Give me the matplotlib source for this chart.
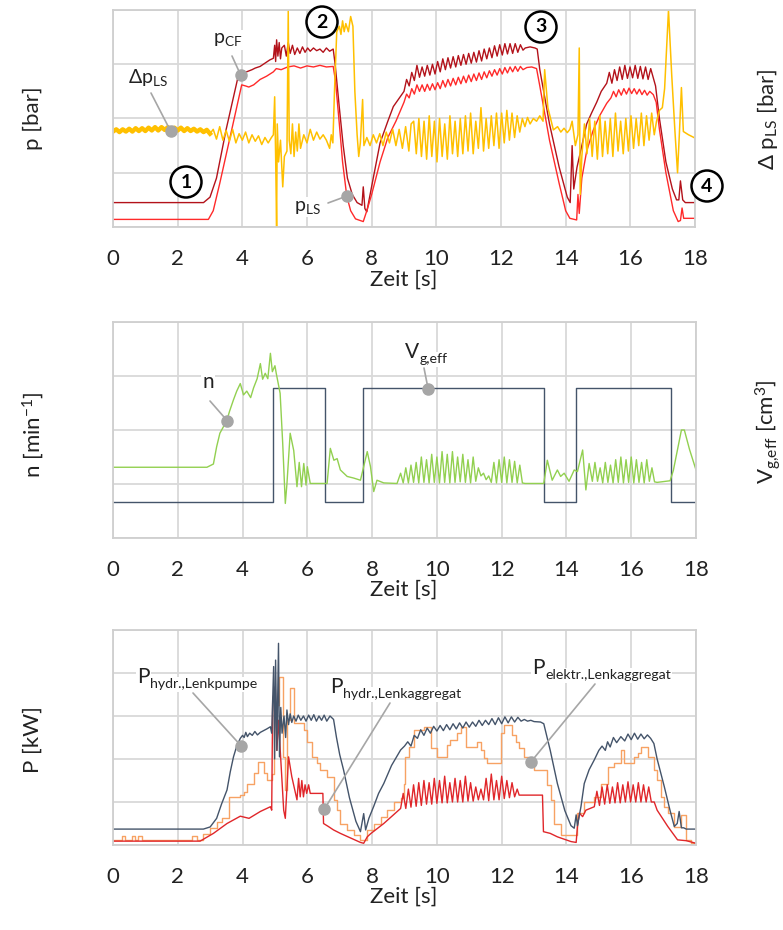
import numpy as np
import matplotlib
matplotlib.use("Agg")
import matplotlib.pyplot as plt

plt.rcParams['font.family'] = ['Lato', 'DejaVu Sans']
plt.rcParams['mathtext.fontset'] = 'custom'
plt.rcParams['mathtext.rm'] = 'Lato'
plt.rcParams['mathtext.it'] = 'Lato:italic'
plt.rcParams['mathtext.bf'] = 'Lato:bold'
plt.rcParams['mathtext.fallback'] = 'stixsans'

# ---------------- Daten ----------------
x_ticks = [0, 2, 4, 6, 8, 10, 12, 14, 16, 18]

# oberes Diagramm: Druecke (Skala 0..4 Kaestchen)
p_cf = [(0, 0.45), (2.8, 0.45), (3.0, 0.55), (3.2, 0.9), (3.5, 1.8), (3.88, 2.8), (4.0, 2.85),
        (4.13, 2.86), (4.3, 2.9), (4.4, 2.93), (4.55, 2.96), (4.7, 3.02), (4.85, 3.08), (4.96, 3.11),
        (5.0, 3.35), (5.03, 3.05), (5.06, 3.45), (5.1, 3.15), (5.14, 3.4), (5.18, 3.1), (5.22, 3.3),
        (5.3, 3.35), (5.36, 3.15), (5.42, 3.4), (5.48, 3.2), (5.55, 3.35), (5.62, 3.18), (5.7, 3.3),
        (5.78, 3.2), (5.86, 3.32), (5.94, 3.22), (6.02, 3.3), (6.1, 3.24), (6.2, 3.3), (6.3, 3.25),
        (6.4, 3.28), (6.5, 3.22), (6.6, 3.3), (6.7, 3.24), (6.81, 3.28), (6.87, 3.0), (7.0, 2.2),
        (7.12, 1.5), (7.25, 0.9), (7.4, 0.6), (7.55, 0.45), (7.7, 0.4), (7.74, 0.74), (7.79, 0.34),
        (7.85, 0.28), (8.0, 0.75), (8.26, 1.55), (8.5, 1.95), (8.67, 2.22), (8.88, 2.4),
        (9.0, 2.5), (9.08, 2.72), (9.16, 2.6), (9.24, 2.85), (9.32, 2.7), (9.4, 2.98), (9.48, 2.76),
        (9.56, 2.95), (9.64, 2.78), (9.72, 2.98), (9.8, 2.8), (9.88, 3.0), (9.96, 2.82), (10.04, 3.05),
        (10.12, 2.86), (10.2, 3.1), (10.28, 2.9), (10.36, 3.12), (10.44, 2.93), (10.52, 3.14),
        (10.6, 2.95), (10.68, 3.16), (10.76, 2.98), (10.84, 3.18), (10.92, 3.0), (11.0, 3.2),
        (11.08, 3.02), (11.16, 3.22), (11.24, 3.04), (11.32, 3.25), (11.4, 3.06), (11.48, 3.28),
        (11.56, 3.1), (11.64, 3.3), (11.72, 3.12), (11.8, 3.34), (11.88, 3.15), (11.96, 3.36),
        (12.04, 3.17), (12.12, 3.38), (12.2, 3.19), (12.28, 3.38), (12.36, 3.2), (12.44, 3.38),
        (12.52, 3.22), (12.6, 3.36), (12.68, 3.26), (12.75, 3.3), (12.9, 3.32), (13.05, 3.3),
        (13.12, 3.28), (13.2, 2.9), (13.5, 1.9), (13.8, 1.1), (14.05, 0.55), (14.14, 0.45),
        (14.2, 1.5), (14.25, 0.7), (14.35, 1.1), (14.5, 1.5), (14.65, 1.9), (14.8, 2.1), (14.96, 2.3),
        (15.1, 2.5), (15.27, 2.65), (15.35, 2.85), (15.43, 2.65), (15.51, 2.9), (15.59, 2.7),
        (15.67, 2.95), (15.75, 2.72), (15.83, 2.98), (15.91, 2.74), (15.99, 2.95), (16.07, 2.75),
        (16.15, 2.98), (16.23, 2.74), (16.31, 2.96), (16.39, 2.73), (16.47, 2.95), (16.55, 2.72),
        (16.63, 2.92), (16.71, 2.75), (16.78, 2.6), (16.9, 2.0), (17.1, 1.2), (17.3, 0.7),
        (17.43, 0.5), (17.5, 0.5), (17.55, 0.85), (17.62, 0.5), (17.7, 0.45), (18.0, 0.45)]

p_ls = [(0, 0.14), (2.95, 0.14), (3.1, 0.3), (3.3, 0.8), (3.6, 1.6), (3.98, 2.62), (4.1, 2.6),
        (4.2, 2.58), (4.35, 2.62), (4.55, 2.72), (4.75, 2.78), (4.96, 2.86), (5.05, 2.92), (5.2, 2.9),
        (5.4, 2.95), (5.6, 2.97), (5.8, 2.93), (6.0, 2.97), (6.2, 2.95), (6.4, 2.98), (6.6, 2.95),
        (6.81, 2.96), (6.88, 2.7), (7.0, 1.9), (7.1, 1.2), (7.23, 0.57), (7.35, 0.3), (7.5, 0.15),
        (7.74, 0.1), (7.85, 0.3), (8.0, 0.6), (8.26, 1.2), (8.5, 1.65), (8.75, 1.95), (9.0, 2.3),
        (9.08, 2.45), (9.16, 2.38), (9.24, 2.55), (9.32, 2.45), (9.4, 2.62), (9.48, 2.5), (9.56, 2.62),
        (9.64, 2.5), (9.72, 2.63), (9.8, 2.52), (9.88, 2.64), (9.96, 2.53), (10.04, 2.66), (10.12, 2.55),
        (10.2, 2.7), (10.28, 2.58), (10.36, 2.72), (10.44, 2.6), (10.52, 2.74), (10.6, 2.62),
        (10.68, 2.76), (10.76, 2.64), (10.84, 2.78), (10.92, 2.66), (11.0, 2.8), (11.08, 2.68),
        (11.16, 2.82), (11.24, 2.7), (11.32, 2.84), (11.4, 2.72), (11.48, 2.86), (11.56, 2.75),
        (11.64, 2.88), (11.72, 2.78), (11.8, 2.9), (11.88, 2.8), (11.96, 2.92), (12.04, 2.82),
        (12.12, 2.94), (12.2, 2.84), (12.28, 2.95), (12.36, 2.86), (12.44, 2.96), (12.52, 2.87),
        (12.6, 2.96), (12.68, 2.9), (12.8, 2.94), (12.95, 2.95), (13.1, 2.92), (13.2, 2.6), (13.5, 1.6),
        (13.8, 0.8), (14.0, 0.3), (14.13, 0.16), (14.34, 0.13), (14.38, 0.6), (14.42, 0.25), (14.5, 0.9),
        (14.65, 1.4), (14.85, 1.78), (15.05, 2.05), (15.27, 2.28), (15.4, 2.38), (15.48, 2.5),
        (15.56, 2.4), (15.64, 2.53), (15.72, 2.43), (15.8, 2.55), (15.88, 2.45), (15.96, 2.56),
        (16.04, 2.46), (16.12, 2.55), (16.2, 2.45), (16.28, 2.54), (16.36, 2.44), (16.44, 2.52),
        (16.52, 2.43), (16.6, 2.5), (16.71, 2.44), (16.8, 2.3), (16.9, 1.8), (17.1, 1.0), (17.33, 0.3),
        (17.48, 0.1), (17.55, 0.12), (17.6, 0.35), (17.65, 0.16), (18.0, 0.16)]

# Delta p_LS: ruhiger Anfang (dichtes Band) und Rest
dp_ls_start = [(0.0, 1.76), (0.1, 1.8), (0.2, 1.75), (0.3, 1.8), (0.4, 1.76), (0.5, 1.81), (0.6, 1.76),
               (0.7, 1.82), (0.8, 1.77), (0.9, 1.82), (1.0, 1.77), (1.1, 1.83), (1.2, 1.78), (1.3, 1.84),
               (1.4, 1.78), (1.5, 1.84), (1.6, 1.79), (1.7, 1.84), (1.8, 1.79), (1.9, 1.83), (2.0, 1.78),
               (2.1, 1.83), (2.2, 1.77), (2.3, 1.82), (2.4, 1.77), (2.5, 1.81), (2.6, 1.76), (2.7, 1.8),
               (2.8, 1.75), (2.9, 1.79), (3.0, 1.72)]

dp_ls = [(3.0, 1.72), (3.1, 1.8), (3.2, 1.62), (3.3, 1.85), (3.4, 1.6), (3.5, 1.78), (3.6, 1.58), (3.7, 1.8),
         (3.8, 1.55), (3.9, 1.72), (4.0, 1.6), (4.1, 1.75), (4.2, 1.55), (4.3, 1.7), (4.4, 1.58),
         (4.5, 1.68), (4.6, 1.52), (4.7, 1.65), (4.8, 1.55), (4.9, 1.65), (4.96, 1.7), (5.0, 2.4),
         (5.03, 1.3), (5.06, 0.0), (5.08, 1.9), (5.12, 1.2), (5.18, 1.6), (5.25, 0.74), (5.3, 1.3),
         (5.38, 1.4), (5.42, 4.0), (5.45, 1.6), (5.5, 1.35), (5.55, 1.9), (5.6, 1.3), (5.65, 1.75),
         (5.7, 1.4), (5.75, 1.9), (5.8, 1.45), (5.9, 1.7), (6.0, 1.55), (6.1, 1.8), (6.2, 1.6),
         (6.3, 1.75), (6.4, 1.62), (6.5, 1.7), (6.6, 1.6), (6.7, 1.45), (6.75, 1.7), (6.8, 1.55),
         (6.85, 2.5), (6.92, 3.6), (7.0, 3.7), (7.05, 3.55), (7.1, 3.8), (7.15, 3.6), (7.2, 3.75),
         (7.28, 3.6), (7.35, 3.88), (7.42, 3.7), (7.48, 2.5), (7.55, 1.7), (7.6, 1.3), (7.65, 1.55),
         (7.72, 2.35), (7.76, 1.5), (7.85, 1.65), (7.95, 1.5), (8.05, 1.7), (8.15, 1.55), (8.25, 1.72),
         (8.35, 1.5), (8.45, 1.75), (8.55, 1.55), (8.65, 1.8), (8.75, 1.5), (8.85, 1.8), (8.95, 1.45),
         (9.05, 1.85), (9.15, 1.4), (9.22, 1.9), (9.3, 1.95), (9.38, 1.35), (9.46, 2.0), (9.54, 1.3),
         (9.62, 1.95), (9.7, 1.25), (9.78, 2.05), (9.86, 1.3), (9.94, 1.95), (10.02, 1.2), (10.1, 2.0),
         (10.18, 1.3), (10.26, 1.9), (10.34, 1.25), (10.42, 2.05), (10.5, 1.35), (10.58, 1.95),
         (10.66, 1.3), (10.74, 2.0), (10.82, 1.35), (10.9, 2.05), (10.98, 1.4), (11.06, 2.1),
         (11.14, 1.35), (11.22, 1.95), (11.3, 1.45), (11.38, 2.2), (11.46, 1.4), (11.54, 2.0),
         (11.62, 1.45), (11.7, 2.05), (11.78, 1.5), (11.86, 2.1), (11.94, 1.45), (12.02, 2.1),
         (12.1, 1.55), (12.18, 2.15), (12.26, 1.6), (12.34, 2.1), (12.42, 1.65), (12.5, 2.05),
         (12.58, 1.75), (12.66, 2.0), (12.74, 1.85), (12.82, 2.02), (12.9, 1.9), (13.0, 2.0),
         (13.1, 1.95), (13.2, 2.05), (13.3, 1.95), (13.35, 2.9), (13.45, 2.2), (13.62, 1.79),
         (13.75, 1.85), (13.85, 1.75), (13.95, 1.82), (14.05, 1.74), (14.13, 1.8), (14.2, 1.95),
         (14.3, 1.5), (14.38, 1.7), (14.42, 3.3), (14.45, 0.6), (14.5, 1.3), (14.58, 1.9), (14.66, 1.35),
         (14.74, 2.0), (14.82, 1.3), (14.9, 1.95), (14.98, 1.25), (15.06, 2.05), (15.14, 1.3),
         (15.22, 1.95), (15.3, 1.35), (15.38, 2.0), (15.46, 1.3), (15.54, 2.1), (15.62, 1.4),
         (15.7, 1.95), (15.78, 1.35), (15.86, 2.0), (15.94, 1.4), (16.02, 2.05), (16.1, 1.45),
         (16.18, 2.0), (16.26, 1.5), (16.34, 2.1), (16.42, 1.5), (16.5, 2.05), (16.58, 1.6),
         (16.66, 2.1), (16.74, 1.7), (16.81, 1.95), (16.9, 2.15), (16.99, 2.2), (17.06, 2.55),
         (17.18, 4.0), (17.28, 2.8), (17.38, 1.76), (17.46, 1.0), (17.52, 1.76), (17.58, 2.57),
         (17.64, 1.76), (17.8, 1.7), (18.0, 1.64)]

# mittleres Diagramm: Drehzahl und Verdraengervolumen
vg_t = [0, 4.93, 6.54, 7.71, 13.31, 14.31, 17.24, 18.0]
vg_v = [0.67, 2.77, 0.67, 2.77, 0.67, 2.77, 0.67, 0.67]

n_rpm = [(0, 1.31), (2.9, 1.31), (3.1, 1.37), (3.2, 1.69), (3.3, 1.94), (3.4, 2.05), (3.52, 2.19),
         (3.6, 2.35), (3.72, 2.56), (3.82, 2.72), (3.93, 2.86), (4.03, 2.65), (4.13, 2.72), (4.25, 2.6),
         (4.34, 2.78), (4.45, 2.95), (4.55, 3.23), (4.62, 2.94), (4.7, 3.05), (4.78, 2.95), (4.86, 3.42),
         (4.92, 3.08), (5.0, 3.19), (5.04, 3.05), (5.16, 2.68), (5.24, 1.75), (5.32, 0.64), (5.37, 1.0),
         (5.47, 1.94), (5.58, 1.62), (5.68, 0.95), (5.75, 1.4), (5.82, 0.95), (5.89, 1.38), (5.96, 0.98),
         (6.0, 1.32), (6.09, 1.01), (6.61, 1.01), (6.71, 1.66), (6.82, 1.44), (6.92, 1.47), (7.02, 1.26),
         (7.23, 1.14), (7.43, 1.11), (7.64, 1.07), (7.85, 1.6), (7.95, 1.32), (8.05, 0.86), (8.15, 1.07),
         (8.36, 1.02), (8.77, 1.01), (8.88, 1.2), (8.96, 1.02), (9.04, 1.3), (9.12, 1.02), (9.2, 1.35),
         (9.28, 1.03), (9.36, 1.4), (9.44, 1.02), (9.52, 1.5), (9.6, 1.03), (9.68, 1.45), (9.76, 1.02),
         (9.84, 1.55), (9.92, 1.03), (10.0, 1.5), (10.08, 1.02), (10.16, 1.6), (10.24, 1.03), (10.32, 1.55),
         (10.4, 1.02), (10.48, 1.6), (10.56, 1.03), (10.64, 1.5), (10.72, 1.04), (10.8, 1.55),
         (10.88, 1.03), (10.96, 1.45), (11.04, 1.02), (11.12, 1.5), (11.2, 1.05), (11.28, 1.3),
         (11.36, 1.15), (11.44, 1.2), (11.52, 1.08), (11.6, 1.15), (11.68, 1.03), (11.76, 1.4),
         (11.84, 1.02), (11.92, 1.45), (12.0, 1.03), (12.08, 1.5), (12.16, 1.02), (12.24, 1.45),
         (12.32, 1.03), (12.4, 1.42), (12.48, 1.02), (12.56, 1.35), (12.64, 1.02), (12.72, 1.01),
         (13.3, 1.01), (13.41, 1.44), (13.56, 1.07), (13.72, 1.26), (13.82, 1.14), (13.93, 1.2),
         (14.08, 1.05), (14.24, 1.26), (14.34, 1.23), (14.5, 1.63), (14.6, 0.89), (14.7, 1.38),
         (14.8, 1.05), (14.88, 1.4), (14.96, 1.05), (15.04, 1.3), (15.12, 1.02), (15.2, 1.4),
         (15.28, 1.03), (15.36, 1.35), (15.44, 1.02), (15.52, 1.45), (15.6, 1.03), (15.68, 1.5),
         (15.76, 1.02), (15.84, 1.45), (15.92, 1.03), (16.0, 1.5), (16.08, 1.02), (16.16, 1.45),
         (16.24, 1.03), (16.32, 1.4), (16.4, 1.02), (16.48, 1.45), (16.56, 1.05), (16.64, 1.3),
         (16.72, 1.04), (16.8, 1.03), (17.2, 1.06), (17.3, 1.25), (17.45, 1.7), (17.55, 2.0),
         (17.64, 2.0), (17.8, 1.64), (18.0, 1.26)]

# unteres Diagramm: Leistungen (Skala 0..5 Kaestchen)
P_pumpe = [(0, 0.37), (2.79, 0.37), (3.0, 0.42), (3.2, 0.62), (3.35, 0.95), (3.52, 1.28), (3.62, 1.7),
           (3.72, 2.05), (3.82, 2.3), (3.93, 2.48), (4.0, 2.55), (4.05, 2.5), (4.1, 2.62), (4.15, 2.52),
           (4.22, 2.6), (4.3, 2.55), (4.38, 2.64), (4.46, 2.56), (4.55, 2.62), (4.65, 2.66), (4.75, 2.7),
           (4.86, 2.75), (4.9, 2.6), (4.96, 4.15), (4.99, 2.0), (5.02, 4.3), (5.06, 2.2), (5.11, 4.69),
           (5.14, 2.05), (5.18, 3.2), (5.22, 2.6), (5.28, 3.0), (5.33, 2.5), (5.37, 3.14), (5.42, 2.8),
           (5.47, 3.05), (5.52, 2.85), (5.58, 3.0), (5.65, 2.88), (5.72, 3.02), (5.8, 2.9), (5.88, 3.0),
           (5.96, 2.88), (6.04, 3.02), (6.12, 2.9), (6.2, 3.03), (6.28, 2.88), (6.36, 3.0), (6.44, 2.9),
           (6.52, 3.02), (6.6, 2.88), (6.7, 3.0), (6.81, 2.92), (6.9, 2.5), (7.0, 2.1), (7.12, 1.74),
           (7.3, 1.1), (7.5, 0.55), (7.64, 0.31), (7.74, 0.73), (7.8, 0.35), (7.9, 0.62), (8.05, 0.9),
           (8.2, 1.2), (8.36, 1.43), (8.6, 1.85), (8.88, 2.21), (9.0, 2.3), (9.1, 2.4), (9.2, 2.3),
           (9.3, 2.55), (9.4, 2.48), (9.5, 2.68), (9.6, 2.55), (9.7, 2.72), (9.8, 2.6), (9.9, 2.76),
           (10.0, 2.65), (10.1, 2.78), (10.2, 2.66), (10.3, 2.8), (10.4, 2.68), (10.5, 2.82), (10.6, 2.7),
           (10.7, 2.84), (10.8, 2.72), (10.9, 2.86), (11.0, 2.74), (11.1, 2.86), (11.2, 2.76), (11.3, 2.9),
           (11.4, 2.78), (11.5, 2.9), (11.6, 2.8), (11.7, 2.94), (11.8, 2.8), (11.9, 2.96), (12.0, 2.82),
           (12.1, 2.98), (12.2, 2.84), (12.3, 2.98), (12.4, 2.86), (12.5, 2.97), (12.6, 2.88), (12.7, 2.92),
           (12.8, 2.88), (12.9, 2.9), (13.0, 2.87), (13.2, 2.86), (13.3, 2.82), (13.5, 2.2), (13.72, 1.43),
           (13.95, 0.8), (14.14, 0.45), (14.24, 0.39), (14.3, 0.7), (14.34, 0.45), (14.45, 0.9),
           (14.55, 1.43), (14.7, 1.75), (14.86, 1.98), (15.0, 2.2), (15.1, 2.3), (15.2, 2.2), (15.27, 2.4),
           (15.35, 2.28), (15.45, 2.5), (15.55, 2.38), (15.68, 2.52), (15.8, 2.42), (15.9, 2.58),
           (16.0, 2.45), (16.1, 2.6), (16.2, 2.46), (16.3, 2.58), (16.4, 2.47), (16.5, 2.56), (16.6, 2.48),
           (16.7, 2.36), (16.8, 2.0), (17.02, 1.36), (17.2, 0.8), (17.33, 0.43), (17.42, 0.5), (17.48, 0.78),
           (17.55, 0.4), (17.62, 0.4), (17.7, 0.37), (18.0, 0.37)]

P_aggregat = [(0, 0.09), (2.69, 0.09), (3.1, 0.27), (3.52, 0.5), (3.93, 0.67), (4.2, 0.62), (4.55, 0.78),
              (4.86, 0.89), (4.9, 0.81), (4.93, 3.37), (5.01, 3.68), (5.06, 2.2), (5.11, 2.9), (5.27, 0.81),
              (5.32, 0.62), (5.42, 2.05), (5.52, 1.59), (5.68, 1.05), (5.73, 1.55), (5.78, 1.12),
              (5.83, 1.5), (5.88, 1.12), (5.93, 1.4), (5.98, 1.2), (6.04, 1.4), (6.09, 1.2), (6.48, 1.2),
              (6.5, 0.5), (6.65, 0.43), (6.81, 0.35), (7.02, 0.27), (7.64, 0.06), (7.74, 0.04),
              (7.85, 0.19), (7.95, 0.26), (8.36, 0.5), (8.88, 0.85), (8.96, 1.2), (9.04, 0.85), (9.12, 1.3),
              (9.2, 0.88), (9.28, 1.4), (9.36, 0.9), (9.44, 1.45), (9.52, 0.92), (9.6, 1.5), (9.68, 0.95),
              (9.76, 1.45), (9.84, 0.95), (9.92, 1.55), (10.0, 0.97), (10.08, 1.5), (10.16, 0.98),
              (10.24, 1.6), (10.32, 0.98), (10.4, 1.45), (10.48, 1.0), (10.56, 1.55), (10.64, 1.0),
              (10.72, 1.5), (10.8, 1.0), (10.88, 1.6), (10.96, 1.02), (11.04, 1.45), (11.12, 1.02),
              (11.2, 1.35), (11.28, 1.05), (11.36, 1.3), (11.44, 1.05), (11.52, 1.55), (11.6, 1.03),
              (11.68, 1.65), (11.76, 1.05), (11.84, 1.5), (11.92, 1.05), (12.0, 1.6), (12.08, 1.08),
              (12.16, 1.5), (12.24, 1.1), (12.32, 1.45), (12.4, 1.12), (12.48, 1.3), (12.54, 1.16),
              (13.26, 1.16), (13.29, 0.31), (13.5, 0.27), (13.72, 0.19), (14.14, 0.08), (14.3, 0.06),
              (14.34, 0.43), (14.4, 0.74), (14.5, 0.66), (14.6, 0.81), (14.86, 0.89), (14.94, 1.25),
              (15.02, 0.92), (15.1, 1.35), (15.18, 0.95), (15.26, 1.4), (15.34, 0.97), (15.42, 1.35),
              (15.5, 0.98), (15.58, 1.45), (15.66, 0.98), (15.74, 1.4), (15.82, 1.0), (15.9, 1.47),
              (15.98, 1.0), (16.06, 1.4), (16.14, 1.0), (16.22, 1.45), (16.3, 1.0), (16.38, 1.4),
              (16.46, 1.0), (16.54, 1.35), (16.62, 1.0), (16.71, 1.0), (16.8, 0.81), (17.13, 0.43),
              (17.43, 0.12), (17.7, 0.1), (18.0, 0.04)]

# Treppenkurve (Wert gilt ab dem Zeitpunkt)
P_elektr = [(0.0, 0.12), (0.27, 0.21), (0.37, 0.12), (0.58, 0.21), (0.68, 0.12), (0.78, 0.21), (0.89, 0.12),
            (2.43, 0.21), (2.59, 0.12), (2.79, 0.26), (3.0, 0.39), (3.21, 0.54), (3.36, 0.62), (3.57, 1.12),
            (3.93, 1.16), (4.03, 1.24), (4.13, 1.43), (4.34, 1.67), (4.49, 1.94), (4.65, 1.67), (4.75, 1.52),
            (4.91, 1.64), (4.96, 3.26), (5.11, 3.91), (5.25, 2.05), (5.32, 1.29), (5.37, 2.91), (5.45, 3.64),
            (5.6, 2.83), (5.89, 2.68), (5.99, 2.4), (6.14, 2.05), (6.3, 1.9), (6.4, 1.74), (6.61, 1.59),
            (6.81, 1.05), (6.92, 0.81), (7.02, 0.5), (7.23, 0.35), (7.43, 0.23), (7.64, 0.12), (7.85, 0.35),
            (8.05, 0.5), (8.26, 0.66), (8.46, 0.81), (8.67, 1.0), (8.88, 1.09), (8.98, 1.43), (9.03, 2.05),
            (9.13, 2.29), (9.29, 2.67), (9.6, 2.75), (9.82, 2.25), (10.01, 2.05), (10.32, 2.33), (10.42, 2.45),
            (10.63, 2.6), (10.73, 2.75), (10.89, 2.28), (11.25, 2.4), (11.35, 2.21), (11.45, 2.02),
            (11.56, 1.9), (11.97, 2.6), (12.07, 2.79), (12.33, 2.56), (12.43, 2.4), (12.54, 2.25),
            (12.69, 2.05), (12.85, 1.98), (12.99, 1.74), (13.41, 1.4), (13.52, 1.05), (13.62, 0.5),
            (13.82, 0.23), (14.34, 0.74), (14.55, 1.0), (14.86, 1.12), (15.06, 1.43), (15.27, 1.82),
            (15.47, 1.9), (15.68, 2.21), (15.79, 1.9), (16.1, 2.05), (16.2, 2.13), (16.3, 2.29),
            (16.51, 2.05), (16.71, 1.74), (16.81, 1.52), (16.92, 1.12), (17.02, 0.89), (17.13, 0.74),
            (17.33, 0.43), (17.54, 0.7), (17.69, 0.12), (17.85, 0.04), (18.0, 0.04)]

# ---------------- Farben ----------------
c_grid = '#d9d9d9'
c_grau = '#a6a6a6'
c_text = '#222222'
c_rot_dunkel = '#b3121a'
c_rot = '#ff2a2a'
c_gelb = '#ffc000'
c_gruen = '#92d050'
c_blau = '#44546a'
c_orange = '#f7a263'
c_rot_P = '#e0262a'

W, H = 783, 930


def fig_pos(x, y):
    # Pixel im Bild (oben links) -> Figurenkoordinaten
    return x / W, 1 - y / H


fig = plt.figure(figsize=(W / 100, H / 100), dpi=100)
ax_p = fig.add_axes([113 / W, 1 - 227 / H, 582 / W, 217 / H])
ax_n = fig.add_axes([113 / W, 1 - 538 / H, 583 / W, 216 / H])
ax_P = fig.add_axes([113 / W, 1 - 845 / H, 583 / W, 215 / H])


def stil(ax, n_div):
    ax.set_xlim(0, 18)
    ax.set_ylim(0, n_div)
    ax.set_xticks(x_ticks)
    ax.set_yticks(range(n_div + 1))
    ax.set_yticklabels([])
    ax.tick_params(length=0, labelsize=16, pad=16, labelcolor=c_text)
    ax.grid(True, color=c_grid, lw=1.3)
    ax.set_axisbelow(True)
    for s in ax.spines.values():
        s.set_color('#cfcfcf')
        s.set_linewidth(1.3)


def marker(ax, t, v, x_txt, y_txt):
    ax.annotate('', xy=(t, v), xycoords='data', xytext=(x_txt, H - y_txt), textcoords='figure pixels',
                arrowprops=dict(arrowstyle='-', color=c_grau, lw=1.2, shrinkA=0, shrinkB=0), zorder=6)
    ax.plot(t, v, 'o', ms=8, color=c_grau, zorder=7, clip_on=False)


def label(x, y, s, size=13):
    fig.text(*fig_pos(x, y), s, ha='center', va='center', fontsize=size, color=c_text,
             bbox=dict(fc='white', ec='none', pad=1.0), zorder=8)


def label_sub(ax, x_links, y_basis, haupt, index, size=15):
    # Formelzeichen mit Index als zwei echte Texte (Index ohne Mathtext-Abstaende)
    t_h = ax.annotate(haupt, xy=(x_links, H - y_basis), xycoords='figure pixels', ha='left', va='baseline',
                      fontsize=size, color=c_text, annotation_clip=False,
                      bbox=dict(fc='white', ec='none', pad=1.0), zorder=8)
    ax.annotate(index, xy=(1, 0), xycoords=t_h, xytext=(0.5, -1.0), textcoords='offset points',
                ha='left', va='baseline', fontsize=size * 0.68, color=c_text, annotation_clip=False,
                bbox=dict(fc='white', ec='none', pad=1.0), zorder=8)


def kreis(x, y, s):
    fig.text(*fig_pos(x, y), s, ha='center', va='center', fontsize=14, fontweight='bold', color='black',
             bbox=dict(boxstyle='circle,pad=0.36', fc='white', ec='black', lw=1.8), zorder=9)


# --- oberes Diagramm ---
stil(ax_p, 4)
t, v = np.array(p_cf).T
ax_p.plot(t, v, color=c_rot_dunkel, lw=1.0)
t, v = np.array(p_ls).T
ax_p.plot(t, v, color=c_rot, lw=1.0)
t, v = np.array(dp_ls_start).T
ax_p.plot(t, v, color=c_gelb, lw=3.2)
t, v = np.array(dp_ls).T
ax_p.plot(t, v, color=c_gelb, lw=1.1)

marker(ax_p, 3.95, 2.80, 232, 56)
marker(ax_p, 1.78, 1.77, 151, 93)
marker(ax_p, 7.23, 0.57, 328, 203)
label(228, 40, r'$\mathregular{p_{CF}}$', 14)
label(148, 77, r'$\mathregular{\Delta p_{LS}}$', 14)
label(307, 207, r'$\mathregular{p_{LS}}$', 14)
kreis(186, 182, '1')
kreis(322, 22, '2')
kreis(541, 27, '3')
kreis(707, 186, '4')

# --- mittleres Diagramm ---
stil(ax_n, 4)
ax_n.step(vg_t, vg_v, where='post', color=c_blau, lw=1.0)
t, v = np.array(n_rpm).T
ax_n.plot(t, v, color=c_gruen, lw=1.0)
marker(ax_n, 3.53, 2.17, 210, 401)
marker(ax_n, 9.73, 2.76, 424, 368)
label(208, 382, 'n', 15)
label_sub(ax_n, 405, 358, 'V', 'g,eff', 15)

# --- unteres Diagramm ---
stil(ax_P, 5)
t, v = np.array(P_elektr).T
ax_P.step(t, v, where='post', color=c_orange, lw=1.0)
t, v = np.array(P_aggregat).T
ax_P.plot(t, v, color=c_rot_P, lw=1.0)
t, v = np.array(P_pumpe).T
ax_P.plot(t, v, color=c_blau, lw=1.0)
marker(ax_P, 3.95, 2.31, 193, 693)
marker(ax_P, 6.53, 0.84, 390, 703)
marker(ax_P, 12.9, 1.93, 595, 684)
label_sub(ax_P, 137, 683, 'P', 'hydr.,Lenkpumpe', 15)
label_sub(ax_P, 330, 693, 'P', 'hydr.,Lenkaggregat', 15)
label_sub(ax_P, 532, 674, 'P', 'elektr.,Lenkaggregat', 15)

# --- Achsentitel ---
for y in (280, 590, 897):
    fig.text(*fig_pos(404, y), 'Zeit [s]', ha='center', va='center', fontsize=16, color=c_text)
fig.text(*fig_pos(33, 118), 'p [bar]', rotation=90, ha='center', va='center', fontsize=16, color=c_text)
fig.text(*fig_pos(768, 119), r'$\mathregular{\Delta\ p_{LS}\ [bar]}$', rotation=90, ha='center',
         va='center', fontsize=16, color=c_text)
fig.text(*fig_pos(33, 435), r'$\mathregular{n\ [min^{-1}]}$', rotation=90, ha='center', va='center',
         fontsize=16, color=c_text)
fig.text(*fig_pos(768, 432), r'$\mathregular{V_{g{,}eff}\ [cm^{3}]}$', rotation=90, ha='center',
         va='center', fontsize=16, color=c_text)
fig.text(*fig_pos(33, 740), 'P [kW]', rotation=90, ha='center', va='center', fontsize=16, color=c_text)

fig.savefig('out.png', dpi=100)
